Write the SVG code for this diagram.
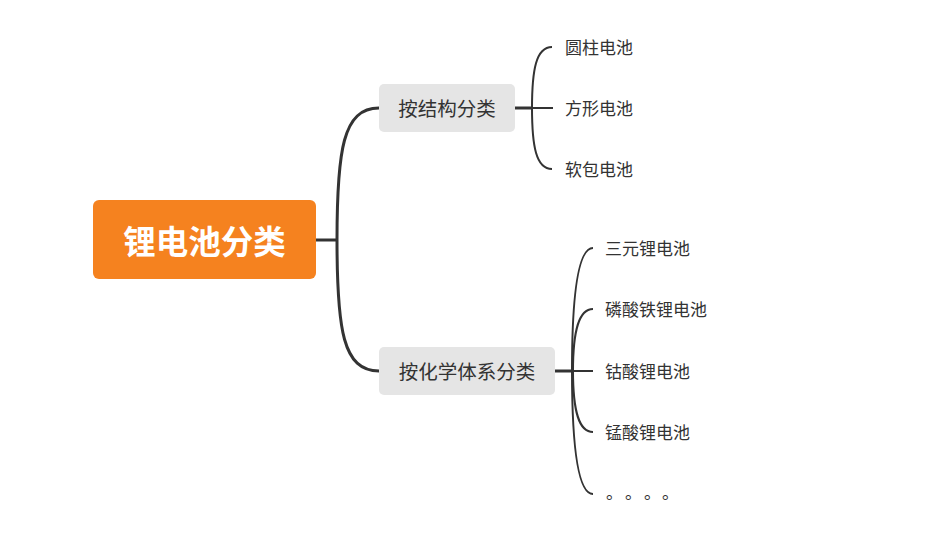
<svg xmlns="http://www.w3.org/2000/svg" width="928" height="554" viewBox="0 0 928 554">
<style>
text{font-family:"Noto Sans CJK SC","Noto Sans",sans-serif;fill:#333;dominant-baseline:central}
.main{stroke:#333;stroke-width:3;fill:none;stroke-linecap:butt}
.sub{stroke:#333;stroke-width:2;fill:none}
.topic{fill:#E5E5E5}
.t2{font-size:19.5px;text-anchor:middle}
.leaf{font-size:17px}
</style>
<rect width="928" height="554" fill="#fff"/>
<g id="connectors">
<path class="main" d="M316,240 L337,240"/>
<path class="main" d="M337,240 C337,150 343,108 379,108"/>
<path class="main" d="M337,240 C337,330 343,371 379,371"/>
<path class="main" d="M515,108 L533,108"/>
<path class="sub" d="M533,108 L553,108"/>
<path class="sub" d="M552,47 C536,47 532,70 532,108 C532,146 536,169 552,169"/>
<path class="main" d="M555,371 L573,371"/>
<path class="sub" d="M573,371 L593,371"/>
<path class="sub" d="M593,248 C577,248 572,300 572,371 C572,442 577,494 593,494"/>
<path class="sub" d="M593,309 C579,309 573,330 573,371 C573,412 579,432 593,432"/>
</g>
<g id="root">
<rect x="93" y="200" width="223" height="79" rx="6" fill="#F5821F"/>
<text x="204.5" y="239" font-size="32.5" font-weight="bold" text-anchor="middle" style="fill:#fff">锂电池分类</text>
</g>
<g id="n-structure">
<rect class="topic" x="379" y="84" width="136" height="48" rx="5"/>
<text class="t2" x="447" y="107.5">按结构分类</text>
</g>
<g id="n-chem">
<rect class="topic" x="379" y="347" width="176" height="48" rx="5"/>
<text class="t2" x="467" y="370.5">按化学体系分类</text>
</g>
<g id="l1"><text class="leaf" x="565" y="46">圆柱电池</text></g>
<g id="l2"><text class="leaf" x="565" y="107">方形电池</text></g>
<g id="l3"><text class="leaf" x="565" y="168">软包电池</text></g>
<g id="l4"><text class="leaf" x="605" y="247">三元锂电池</text></g>
<g id="l5"><text class="leaf" x="605" y="308">磷酸铁锂电池</text></g>
<g id="l6"><text class="leaf" x="605" y="370">钴酸锂电池</text></g>
<g id="l7"><text class="leaf" x="605" y="431">锰酸锂电池</text></g>
<g id="l8"><text class="leaf" x="606 625 644 662" y="491">。。。。</text></g>
</svg>
